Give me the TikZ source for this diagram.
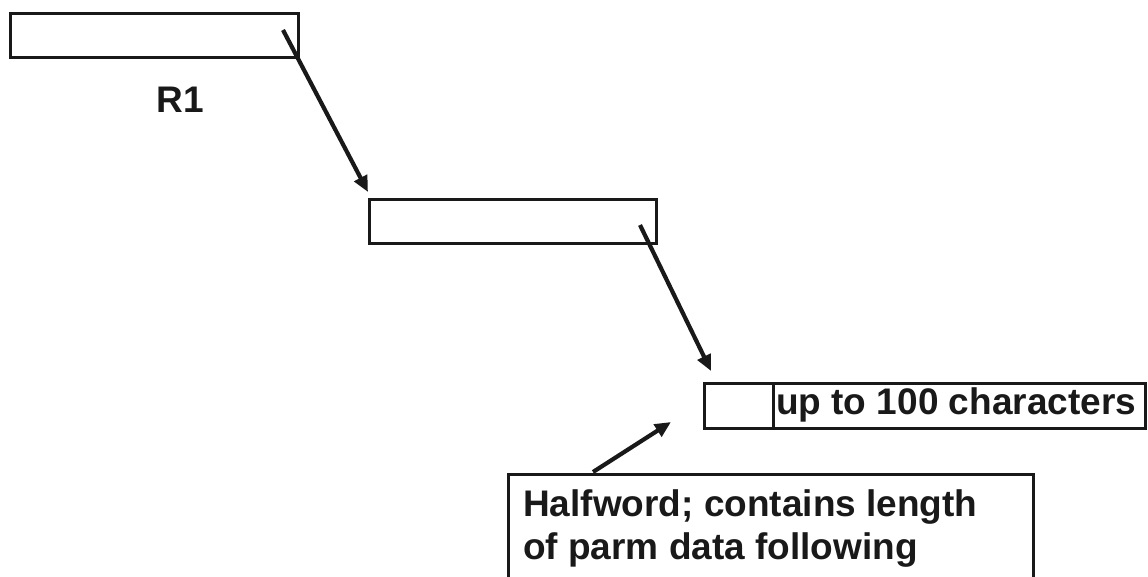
\documentclass[tikz,border=0pt]{standalone}
\usepackage{fontspec}
\setmainfont{Liberation Sans}
\usetikzlibrary{arrows.meta}
\tikzset{
  field/.style={draw=black!90, line width=2.8pt, rectangle, inner sep=0pt},
  label/.style={font=\fontsize{37}{44}\selectfont\bfseries, inner sep=0pt, text=black!90},
  pointer/.style={draw=black!90, line width=4.2pt,
    -{Triangle[length=16pt,width=14pt]}, shorten >=0pt},
}
\begin{document}
\begin{tikzpicture}[x=1pt,y=-1pt]
  \useasboundingbox (0,0) rectangle (1148,576);
  \clip (0,0) rectangle (1148,576);

  % register R1 and the address word it points to
  \node[field, minimum width=288pt, minimum height=44pt, anchor=north west] (reg) at (9,12) {};
  \node[label, anchor=base] (r1) at (180,112) {R1};
  \node[field, minimum width=287pt, minimum height=44pt, anchor=north west] (addr) at (368,198) {};

  % parameter list: halfword length followed by the data
  \node[field, minimum width=69pt, minimum height=45pt, anchor=north west] (len) at (703,382) {};
  \node[field, minimum width=372pt, minimum height=45pt, anchor=north west] (data) at (772,382) {};
  \node[label, anchor=base west] (datatext) at (776,414) {up to 100 characters};

  % explanatory note
  \node[field, minimum width=525pt, minimum height=140pt, anchor=north west] (note) at (507,473) {};
  \node[label, anchor=base west] (noteA) at (523,516) {Halfword; contains length};
  \node[label, anchor=base west] (noteB) at (523,559) {of parm data following};

  % pointer ends
  \coordinate (p1s) at (283,30);
  \coordinate (p1e) at (368,192);
  \coordinate (p2s) at (640,225);
  \coordinate (p2e) at (711,371);
  \coordinate (p3s) at (593,472);
  \coordinate (p3e) at (671,422);

  \draw[pointer] (p1s) -- (p1e);
  \draw[pointer] (p2s) -- (p2e);
  \draw[pointer] (p3s) -- (p3e);
\end{tikzpicture}
\end{document}
